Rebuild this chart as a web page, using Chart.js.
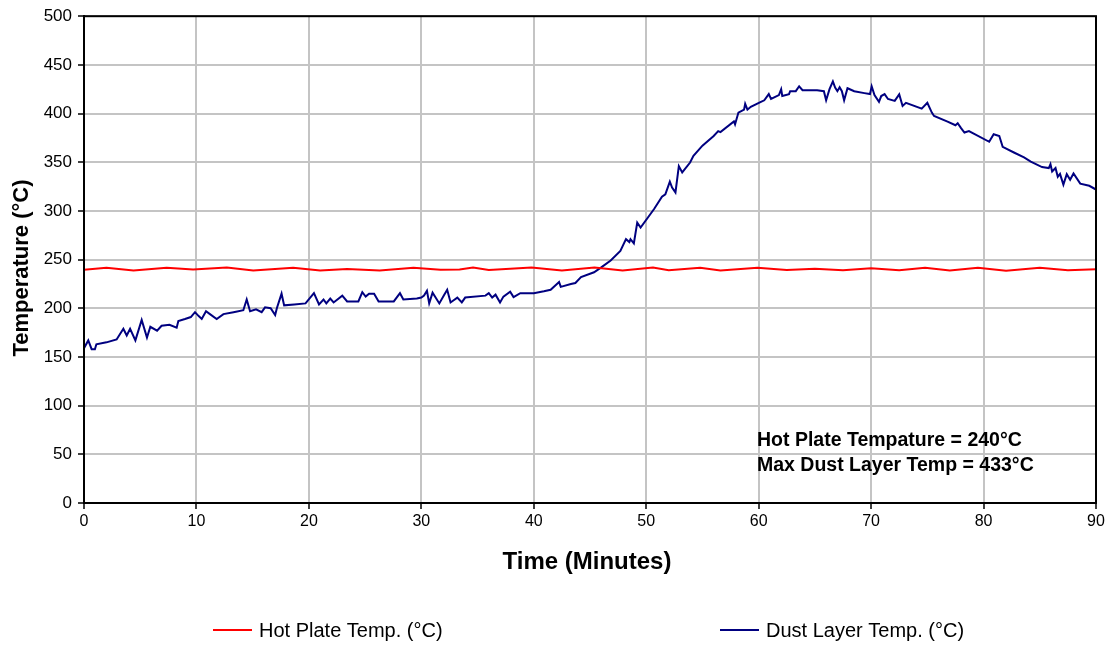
<!DOCTYPE html>
<html>
<head>
<meta charset="utf-8">
<script src="https://cdn.jsdelivr.net/npm/chart.js@4.4.1/dist/chart.umd.min.js"></script>
<style>
  html, body { margin: 0; padding: 0; background: #fff; }
  #wrap { width: 1111px; height: 645px; }
</style>
</head>
<body>
<div id="wrap"><canvas id="chart" width="1111" height="645"></canvas></div>
<script>
// time in minutes, temperature in °C
let hotTime = [0, 2.0, 4.4, 7.35, 9.7, 12.7, 15.05, 18.6, 21.0, 23.4, 26.3, 29.3, 31.7, 33.4, 34.6, 36.0,
    39.8, 42.5, 45.4, 47.9, 50.6, 52.0, 54.8, 56.6, 59.9, 62.5, 65.0, 67.5, 70.0, 72.5, 74.8, 77.0,
    79.5, 82.0, 85.0, 87.5, 90];
let hotTemp = [239.5, 241.5, 238.7, 241.5, 239.8, 241.8, 238.7, 241.7, 238.7, 240.3, 238.7, 241.7, 239.6, 239.8, 241.8, 239.4,
    241.8, 238.8, 241.8, 238.7, 241.8, 239, 241.6, 238.8, 241.5, 239.2, 240.5, 239, 241, 239, 241.5, 238.8,
    241.6, 238.6, 241.6, 239, 240];

let dustTime = [0, 0.38, 0.68, 0.97, 1.1, 2.0, 2.9, 3.5, 3.8, 4.1, 4.57, 5.13, 5.6, 5.9, 6.5, 6.9, 7.6, 8.24, 8.39, 8.98,
    9.5, 9.87, 10.2, 10.47, 10.85, 11.2, 11.8, 12.4, 13.3, 14.17, 14.47, 14.77, 15.3, 15.8, 16.1, 16.6, 17.0, 17.15, 17.57, 17.8,
    18.7, 19.7, 20.45, 20.9, 21.3, 21.55, 21.9, 22.2, 22.97, 23.4, 24.4, 24.75, 25.05, 25.35, 25.8, 26.2, 27.55, 28.1, 28.4, 29.6,
    30.0, 30.24, 30.5, 30.7, 31.0, 31.6, 32.0, 32.3, 32.6, 33.2, 33.6, 33.9, 35.7, 36.0, 36.3, 36.6, 37.0, 37.3, 37.9, 38.2,
    38.8, 40.0, 40.9, 41.5, 42.25, 42.4, 43.3, 43.7, 44.2, 45.36, 46.0, 46.84, 47.7, 48.2, 48.5, 48.6, 48.9, 49.2, 49.5, 50.7,
    51.4, 51.7, 52.1, 52.3, 52.6, 52.9, 53.2, 53.9, 54.2, 55.0, 56.0, 56.4, 56.6, 57.8, 57.9, 58.2, 58.7, 58.8, 59.0, 59.3,
    60.2, 60.5, 60.9, 61.1, 61.8, 62.0, 62.1, 62.7, 62.8, 63.3, 63.6, 63.9, 65.2, 65.8, 66.0, 66.3, 66.6, 66.8, 67.0, 67.2,
    67.4, 67.6, 67.9, 68.5, 69.4, 69.9, 70.05, 70.3, 70.7, 70.9, 71.2, 71.5, 72.1, 72.5, 72.8, 73.1, 74.5, 75.0, 75.4, 75.6,
    76.8, 77.5, 77.7, 78.0, 78.3, 78.7, 80.5, 80.9, 81.4, 81.7, 82.7, 83.6, 84.2, 85.2, 85.8, 85.95, 86.1, 86.4, 86.6, 86.8,
    87.1, 87.4, 87.7, 88.0, 88.6, 89.4, 90.0];
let dustTemp = [159, 167, 158, 158, 163, 165, 168, 179, 172, 179, 167, 188, 170, 181, 177, 182, 183, 180, 187, 189,
    191, 196, 192, 189, 197, 194, 189, 194, 196, 198, 209, 197, 199, 196, 201, 200, 193, 200, 215, 203,
    204, 205, 215.5, 204, 209, 205, 210, 206, 213, 207, 207, 216.5, 212, 215, 215, 207, 207, 215.5, 209, 210,
    211, 213, 218, 205, 216, 205, 213, 219, 206, 211, 206, 211, 213, 215.5, 211, 214, 206, 212, 217, 211.5,
    215.5, 215.5, 217.5, 219, 227, 222, 225, 226, 232, 237, 242, 249, 259, 271, 268, 271, 266.7, 288, 283, 302,
    314.5, 317, 330, 324, 319, 346, 339.5, 349.7, 356.6, 367, 377, 382, 381, 392, 389, 401, 404, 410, 404, 407,
    412, 413.6, 420, 415, 419, 425, 418, 420, 423, 423, 428, 424, 424, 423, 413.6, 425, 433, 426.6, 423, 427,
    423, 413.6, 426, 423, 421, 420, 428, 419, 412, 418, 420, 415, 413, 419.7, 407.8, 411, 405, 411, 401, 397.5,
    391.7, 388, 390, 385, 380.5, 382, 371, 378.8, 377, 365.8, 360, 355, 350.7, 345, 344, 348, 340.5, 344, 335, 338,
    327, 337.8, 332, 338.4, 328, 325.8, 322];

let seriesNames = ['Hot Plate Temp. (°C)', 'Dust Layer Temp. (°C)'];
let seriesColors = ['#ff0000', '#000080'];
let noteLines = ['Hot Plate Tempature = 240°C', 'Max Dust Layer Temp = 433°C'];

function toPoints(xs, ys) {
    let pts = [];
    for (i = 0; i < xs.length; i++) {
        pts.push({ x: xs[i], y: ys[i] });
    }
    return pts;
}

// frame, titles, note and legend drawn by hand
let extras = {
    id: 'extras',
    afterDraw(chart) {
        let ctx = chart.ctx;
        let a = chart.chartArea;
        ctx.save();
        ctx.strokeStyle = '#000';
        ctx.lineWidth = 2;
        ctx.strokeRect(a.left, a.top, a.right - a.left, a.bottom - a.top);

        ctx.fillStyle = '#000';
        ctx.textAlign = 'center';
        ctx.textBaseline = 'middle';
        ctx.font = 'bold 24px "Liberation Sans", Arial, sans-serif';
        ctx.fillText('Time (Minutes)', 587, 562);

        ctx.font = 'bold 22px "Liberation Sans", Arial, sans-serif';
        ctx.save();
        ctx.translate(22, 268);
        ctx.rotate(-Math.PI / 2);
        ctx.fillText('Temperature (°C)', 0, 0);
        ctx.restore();

        ctx.font = 'bold 19.5px "Liberation Sans", Arial, sans-serif';
        ctx.textAlign = 'left';
        ctx.fillText(noteLines[0], 757, 441);
        ctx.fillText(noteLines[1], 757, 466);

        // legend
        let legX = [213, 720];
        ctx.font = '20px "Liberation Sans", Arial, sans-serif';
        for (i = 0; i < seriesNames.length; i++) {
            ctx.strokeStyle = seriesColors[i];
            ctx.lineWidth = 2;
            ctx.beginPath();
            ctx.moveTo(legX[i], 630);
            ctx.lineTo(legX[i] + 39, 630);
            ctx.stroke();
            ctx.fillText(seriesNames[i], legX[i] + 46, 631);
        }
        ctx.restore();
    }
};

let ctx = document.getElementById('chart').getContext('2d');
let chart = new Chart(ctx, {
    type: 'line',
    data: {
        datasets: [{
            label: seriesNames[0],
            data: toPoints(hotTime, hotTemp),
            borderColor: seriesColors[0],
            borderWidth: 2,
            pointRadius: 0,
            tension: 0
        }, {
            label: seriesNames[1],
            data: toPoints(dustTime, dustTemp),
            borderColor: seriesColors[1],
            borderWidth: 2,
            pointRadius: 0,
            tension: 0
        }]
    },
    options: {
        responsive: false,
        animation: false,
        layout: {
            padding: { top: 15, right: 15, left: 0, bottom: 0 }
        },
        plugins: {
            legend: { display: false },
            tooltip: { enabled: false }
        },
        scales: {
            x: {
                type: 'linear',
                min: 0,
                max: 90,
                afterFit: function (scale) { scale.height = 142; },
                ticks: {
                    stepSize: 10,
                    color: '#000',
                    padding: 3,
                    maxRotation: 0,
                    font: { family: '"Liberation Sans", Arial, sans-serif', size: 16 }
                },
                grid: {
                    color: '#c4c4c4',
                    lineWidth: 2,
                    tickColor: '#000',
                    tickWidth: 1.5,
                    tickLength: 6
                },
                border: { color: '#000', width: 2 }
            },
            y: {
                min: 0,
                max: 500,
                afterFit: function (scale) { scale.width = 84; },
                ticks: {
                    stepSize: 50,
                    color: '#000',
                    padding: 6,
                    font: { family: '"Liberation Sans", Arial, sans-serif', size: 17 }
                },
                grid: {
                    color: '#c4c4c4',
                    lineWidth: 2,
                    tickColor: '#000',
                    tickWidth: 1.5,
                    tickLength: 6
                },
                border: { color: '#000', width: 2 }
            }
        }
    },
    plugins: [extras]
});
</script>
</body>
</html>
